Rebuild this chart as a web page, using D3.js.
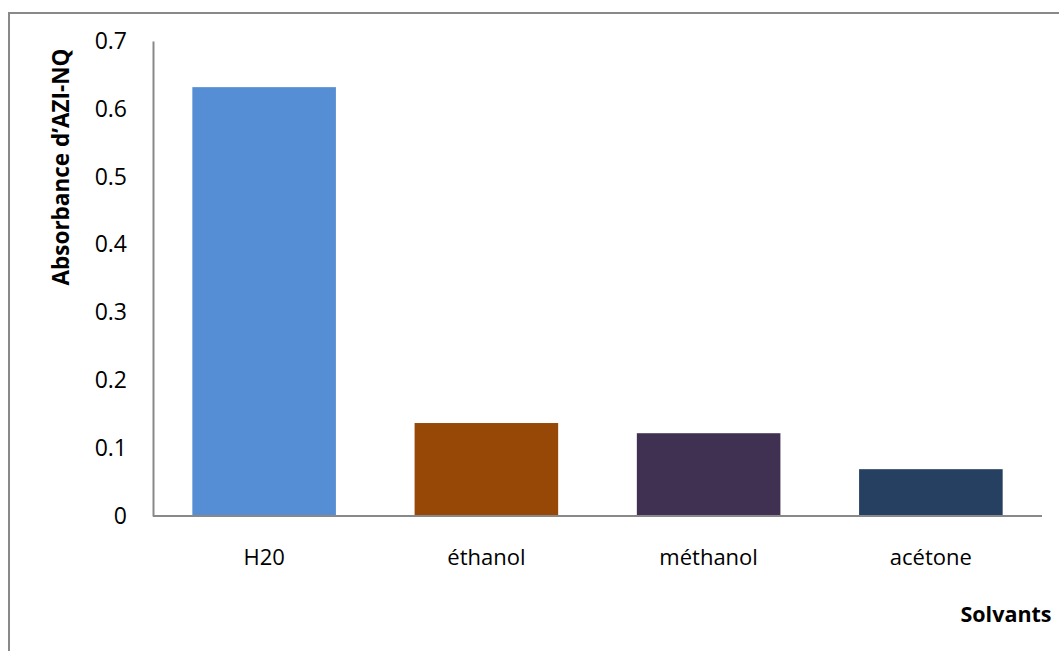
<!DOCTYPE html>
<html>
<head>
<meta charset="utf-8">
<script src="https://cdn.jsdelivr.net/npm/d3@7"></script>
<style>
  html, body { margin: 0; padding: 0; background: #ffffff; }
  svg { display: block; }
  text { font-family: "Open Sans", "Liberation Sans", Arial, sans-serif; fill: #000; }
</style>
</head>
<body>
<svg id="chart" width="1059" height="651"></svg>
<script>
// Absorbance of AZI-NQ in each solvent
const solvents = ["H20", "éthanol", "méthanol", "acétone"];
const absorbance = [0.632, 0.137, 0.122, 0.069];
const barColors = ["#558ED5", "#974706", "#403152", "#254061"];
const yTicks = [0, 0.1, 0.2, 0.3, 0.4, 0.5, 0.6, 0.7];

const svg = d3.select("#chart");
const W = 1059, H = 651;
const plot = { left: 153, right: 1042, top: 41, bottom: 516 };
const axisColor = "#898989";
const fontStack = "'Open Sans', 'Liberation Sans', Arial, sans-serif";

// outer frame (runs off the right and bottom edges)
svg.append("path")
  .attr("d", `M9,${H + 2} L9,13 L${W + 2},13`)
  .attr("fill", "none")
  .attr("stroke", axisColor)
  .attr("stroke-width", 2);

const x = d3.scaleBand()
  .domain(solvents)
  .range([plot.left, plot.right])
  .paddingInner(0.354)
  .paddingOuter(0.177);

const y = d3.scaleLinear()
  .domain([0, 0.7])
  .range([plot.bottom, plot.top]);

// bars
svg.append("g")
  .selectAll("rect")
  .data(solvents)
  .join("rect")
  .attr("x", d => x(d))
  .attr("width", x.bandwidth())
  .attr("y", (d, i) => y(absorbance[i]))
  .attr("height", (d, i) => y(0) - y(absorbance[i]))
  .attr("fill", (d, i) => barColors[i]);

// y axis
const yAxis = svg.append("g")
  .attr("transform", `translate(${plot.left},0)`)
  .call(d3.axisLeft(y).tickValues(yTicks).tickSize(0).tickPadding(26)
    .tickFormat(d => d === 0 ? "0" : d3.format(".1f")(d)));
yAxis.select(".domain").attr("stroke", axisColor).attr("stroke-width", 2);
yAxis.selectAll("text")
  .style("font-family", fontStack)
  .style("font-size", "23px")
  .attr("fill", "#000");

// x axis
const xAxis = svg.append("g")
  .attr("transform", `translate(0,${plot.bottom})`)
  .call(d3.axisBottom(x).tickSize(0).tickPadding(33));
xAxis.select(".domain")
  .attr("d", `M${plot.left},0H${plot.right}`)
  .attr("stroke", axisColor).attr("stroke-width", 2);
xAxis.selectAll("text")
  .style("font-family", fontStack)
  .style("font-size", "22px")
  .attr("fill", "#000");

// axis titles
svg.append("text")
  .attr("transform", "translate(69,167) rotate(-90)")
  .attr("text-anchor", "middle")
  .style("font-size", "22.5px")
  .style("font-weight", "bold")
  .text("Absorbance d’AZI-NQ");

svg.append("text")
  .attr("x", 1006)
  .attr("y", 622)
  .attr("text-anchor", "middle")
  .style("font-size", "21.5px")
  .style("font-weight", "bold")
  .text("Solvants");
</script>
</body>
</html>
